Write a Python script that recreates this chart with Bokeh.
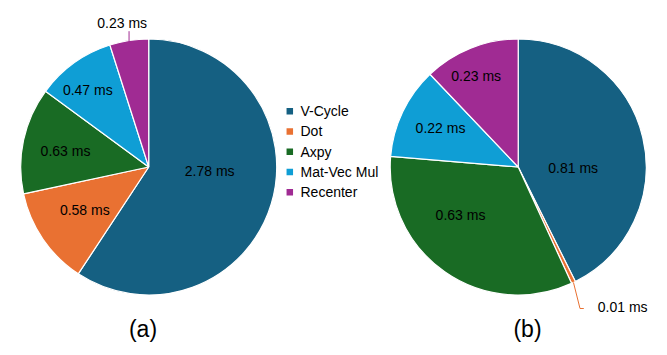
import numpy as np
from bokeh.plotting import figure
from bokeh.models import Range1d
from bokeh.embed import file_html
from bokeh.resources import INLINE
from bokeh.core.properties import value

# ---- data ----
categories = ["V-Cycle", "Dot", "Axpy", "Mat-Vec Mul", "Recenter"]
values_a = [2.78, 0.58, 0.63, 0.47, 0.23]
values_b = [0.81, 0.01, 0.63, 0.22, 0.23]
panel_labels = ["(a)", "(b)"]
colors = ["#156082", "#E97132", "#196B24", "#0F9ED5", "#A02B93"]

# ---- layout / style ----
FONT = value("Liberation Sans")
W, H = 660, 348
R = 128.0
centers = [(148.2, 166.5), (517.7, 166.5)]   # screen px
# label offsets (screen px, relative to pie center); None -> outside label
label_off_a = [(61, 4.2), (-63.9, 42.8), (-83.2, -16.2), (-60.9, -77.2), None]
label_off_b = [(55, 0.8), None, (-57.7, 47.5), (-77.7, -38.8), (-42, -90.8)]

def Y(sy):
    return H - sy

p = figure(width=W, height=H, x_range=Range1d(0, W), y_range=Range1d(0, H),
           output_backend="svg", toolbar_location=None, min_border=0,
           x_axis_type=None, y_axis_type=None)
p.grid.visible = False
p.outline_line_color = None
p.background_fill_color = "white"
p.border_fill_color = "white"


def draw_pie(vals, center, offs):
    cx, cy = center
    v = np.array(vals, dtype=float)
    frac = v / v.sum()
    ends = np.cumsum(frac) * 2 * np.pi          # clockwise from top
    starts = ends - frac * 2 * np.pi
    sa = np.pi / 2 - ends
    ea = np.pi / 2 - starts
    p.wedge(x=[cx] * len(v), y=[Y(cy)] * len(v), radius=R,
            start_angle=list(sa), end_angle=list(ea),
            fill_color=colors, line_color="white", line_width=1.2)
    mids = (starts + ends) / 2
    info = []
    for i, (val, off) in enumerate(zip(vals, offs)):
        txt = f"{val:.2f} ms"
        if off is not None:
            p.text(x=[cx + off[0]], y=[Y(cy + off[1])], text=[txt], text_font=FONT,
                   text_font_size="14px", text_align="center", text_baseline="middle",
                   text_color="black")
        else:
            ex = cx + R * np.sin(mids[i])
            ey = cy - R * np.cos(mids[i])
            info.append((i, txt, ex, ey))
    return info

out_a = draw_pie(values_a, centers[0], label_off_a)
out_b = draw_pie(values_b, centers[1], label_off_b)

# outside label (a): Recenter
for i, txt, ex, ey in out_a:
    p.line(x=[ex, ex], y=[Y(ey + 1), Y(30.7)], line_color=colors[i], line_width=1)
    p.text(x=[121.7], y=[Y(22)], text=[txt], text_font=FONT, text_font_size="14px",
           text_align="center", text_baseline="middle", text_color="black")

# outside label (b): Dot
for i, txt, ex, ey in out_b:
    p.line(x=[ex, 579.5, 583.3], y=[Y(ey), Y(308), Y(308)], line_color=colors[i], line_width=1)
    p.text(x=[597.3], y=[Y(306)], text=[txt], text_font=FONT, text_font_size="14px",
           text_align="left", text_baseline="middle", text_color="black")

# legend
leg_y = [110.7 + 20.25 * k for k in range(len(categories))]
p.scatter(x=[289.3] * len(categories), y=[Y(v) for v in leg_y], marker="square",
          size=6.5, fill_color=colors, line_color=None)
p.text(x=[300] * len(categories), y=[Y(v) for v in leg_y], text=categories, text_font=FONT,
       text_font_size="14px", text_align="left", text_baseline="middle", text_color="black")

# panel labels
p.text(x=[142.5, 527], y=[Y(328), Y(328)], text=panel_labels, text_font=FONT,
       text_font_size="23px", text_align="center", text_baseline="middle", text_color="black")

open("out.html", "w").write(file_html(p, INLINE))
